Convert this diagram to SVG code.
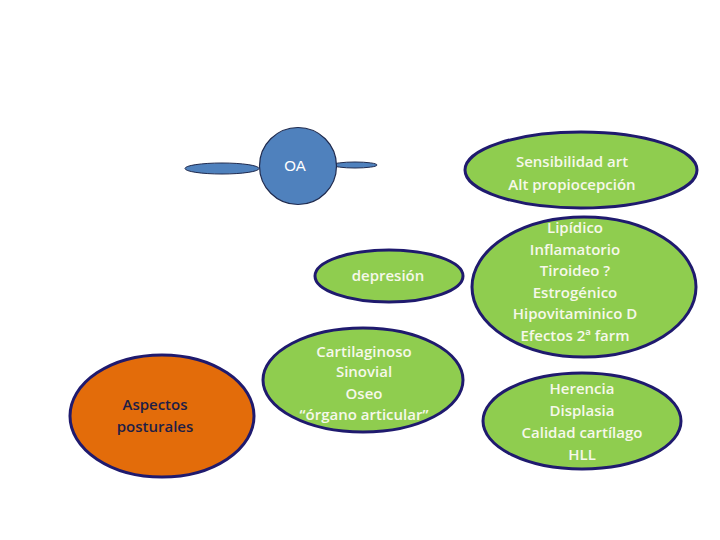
<svg xmlns="http://www.w3.org/2000/svg" width="720" height="540" viewBox="0 0 720 540">
<style>
.g{fill:#8fcd4f;stroke:#1f1a6e;stroke-width:3}
.t{font-family:"Open Sans","Liberation Sans",sans-serif;font-size:15px;font-weight:600;fill:#f6f8ea;text-anchor:middle}
.d{fill:#1e1e46}
</style>
<rect width="720" height="540" fill="#ffffff"/>
<g id="connectors">
<ellipse cx="222" cy="168.5" rx="37" ry="5.5" fill="#4f81bd" stroke="#1f2a4e" stroke-width="1"/>
<ellipse cx="355" cy="165" rx="22" ry="3" fill="#4f81bd" stroke="#1f2a4e" stroke-width="1"/>
</g>
<g id="oa">
<circle cx="298" cy="166" r="38.5" fill="#4f81bd" stroke="#1f2a4e" stroke-width="1.2"/>
<text x="295" y="171" class="t" style="font-family:'Liberation Sans',Arial,sans-serif;font-size:15px;font-weight:normal;fill:#ffffff">OA</text>
</g>
<g id="sensibilidad">
<ellipse cx="581" cy="170" rx="116" ry="38" class="g"/>
<text class="t"><tspan x="572" y="167">Sensibilidad art</tspan><tspan x="572" y="190">Alt propiocepción</tspan></text>
</g>
<g id="depresion">
<ellipse cx="389" cy="276" rx="74" ry="26" class="g"/>
<text x="388" y="281" class="t">depresión</text>
</g>
<g id="metabolico">
<ellipse cx="584" cy="287" rx="112" ry="70" class="g"/>
<text class="t"><tspan x="575" y="233">Lipídico</tspan><tspan x="575" y="255">Inflamatorio</tspan><tspan x="575" y="276">Tiroideo ?</tspan><tspan x="575" y="298">Estrogénico</tspan><tspan x="575" y="319">Hipovitaminico D</tspan><tspan x="575" y="341">Efectos 2ª farm</tspan></text>
</g>
<g id="aspectos">
<ellipse cx="162" cy="416" rx="92" ry="61" fill="#e36c0a" stroke="#1f1a6e" stroke-width="3"/>
<text class="t d"><tspan x="155" y="410">Aspectos</tspan><tspan x="155" y="432">posturales</tspan></text>
</g>
<g id="organo">
<ellipse cx="363" cy="380" rx="100" ry="52" class="g"/>
<text class="t"><tspan x="364" y="357">Cartilaginoso</tspan><tspan x="364" y="377">Sinovial</tspan><tspan x="364" y="399">Oseo</tspan><tspan x="364" y="420">“órgano articular”</tspan></text>
</g>
<g id="herencia">
<ellipse cx="582" cy="421" rx="99" ry="48" class="g"/>
<text class="t"><tspan x="582" y="394">Herencia</tspan><tspan x="582" y="416">Displasia</tspan><tspan x="582" y="438">Calidad cartílago</tspan><tspan x="582" y="460">HLL</tspan></text>
</g>
</svg>
